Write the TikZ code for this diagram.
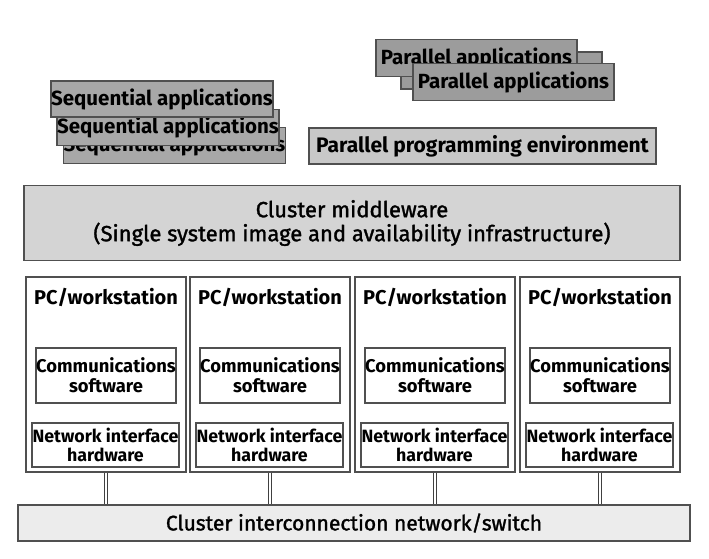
\documentclass[tikz,border=0pt]{standalone}
\usepackage{fontspec}
\setmainfont{Fira Sans}
\newfontfamily\midfont[FakeBold=1.4]{Fira Sans}
\definecolor{appgray}{HTML}{A8A8A8}
\definecolor{pargray}{HTML}{9C9C9C}
\definecolor{envgray}{HTML}{C8C8C8}
\definecolor{midgray}{HTML}{D4D4D4}
\definecolor{netgray}{HTML}{ECECEC}
\definecolor{edgegray}{HTML}{505050}
\tikzset{
  layer/.style={draw=edgegray,line width=1.1pt,inner sep=0pt,align=center},
  seqbox/.style={layer,fill=appgray,minimum width=222pt,minimum height=36pt,font=\fontsize{20.5}{22}\selectfont\bfseries},
  parbox/.style={layer,fill=pargray,minimum width=201pt,minimum height=37pt,font=\fontsize{20.5}{22}\selectfont\bfseries},
  pcbox/.style={layer,fill=white,minimum width=160pt,minimum height=195pt},
  subbox/.style={layer,fill=white,font=\bfseries},
  link/.style={draw=edgegray!80!black,double=white,double distance=2pt,line width=1pt}
}
\begin{document}
\begin{tikzpicture}[x=1pt,y=-1pt]
  \useasboundingbox (0,0) rectangle (709,559);
  % applications
  \node[seqbox] (seq3) at (174.5,145.5) {Sequential applications};
  \node[seqbox] (seq2) at (168,127.5) {Sequential applications};
  \node[seqbox] (seq1) at (162,99) {Sequential applications};
  \node[parbox] (parb) at (501.5,70.5) {};
  \node[parbox] (para) at (476.5,58) {Parallel applications};
  \node[parbox] (parc) at (513.5,82) {Parallel applications};
  \node[layer,fill=envgray,minimum width=347pt,minimum height=36pt,font=\fontsize{21}{23}\selectfont\bfseries] (env) at (482.5,146) {Parallel programming environment};
  % middleware
  \node[layer,fill=midgray,minimum width=656pt,minimum height=75pt,font=\fontsize{22}{24}\selectfont\midfont] (mid) at (352,223)
    {Cluster middleware\\(Single system image and availability infrastructure)};
  % nodes of the cluster
  \node[layer,fill=netgray,minimum width=672pt,minimum height=36pt,font=\fontsize{21}{23}\selectfont\midfont] (net) at (354,523) {Cluster interconnection network/switch};
  \foreach \i/\x in {1/106,2/270,3/435,4/600} {
    \node[pcbox] (pc\i) at (\x,374.5) {};
    \node[font=\fontsize{20}{22}\selectfont\bfseries] (title\i) at (\x,297) {PC/workstation};
    \node[subbox,font=\fontsize{18.4}{20}\selectfont\bfseries,minimum width=140pt,minimum height=55pt] (comm\i) at (\x,375.5) {Communications\\software};
    \node[subbox,font=\fontsize{17.8}{19}\selectfont\bfseries,minimum width=147pt,minimum height=44pt] (nic\i) at (\x-0.5,445) {Network interface\\hardware};
    \draw[link] (pc\i.south) -- (pc\i.south |- net.north);
  }
\end{tikzpicture}
\end{document}
